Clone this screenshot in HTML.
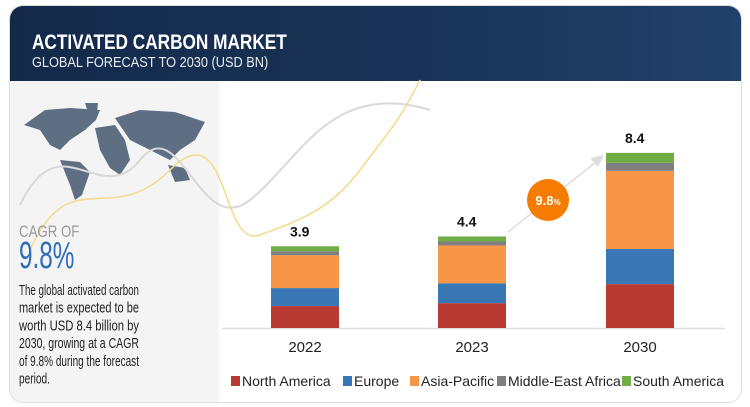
<!DOCTYPE html>
<html><head><meta charset="utf-8"><style>
body{margin:0;width:750px;height:407px;background:#fff;font-family:"Liberation Sans",sans-serif;overflow:hidden;position:relative}
.abs{position:absolute}
</style></head><body>
<div class="abs" style="left:9px;top:5px;width:731px;height:396px;border:1px solid #ddd;border-radius:14px;overflow:hidden;background:#fff">
 <div class="abs" style="left:0;top:0;width:731px;height:75px;background:linear-gradient(90deg,#13294a,#1a3558 60%,#21406a)">
  <div class="abs" style="left:22px;top:25px;color:#fff;font-weight:bold;font-size:21px;transform:scaleX(0.82);transform-origin:left;white-space:nowrap">ACTIVATED CARBON MARKET</div>
  <div class="abs" style="left:22px;top:48px;color:#e8ecf2;font-size:15px;transform:scaleX(0.85);transform-origin:left;white-space:nowrap">GLOBAL FORECAST TO 2030 (USD BN)</div>
 </div>
 <div class="abs" style="left:0;top:75px;width:209px;height:321px;background:#f4f4f4"></div>
</div>
<svg class="abs" style="left:0;top:0" width="750" height="407">
 <g fill="#5f6f83">
  <path d="M24 125 L45 110 L70 108 L100 110 L96 120 L85 130 L70 140 L60 150 L50 145 L40 130 Z"/>
  <path d="M60 160 L80 162 L90 172 L82 195 L75 200 L70 185 Z"/>
  <path d="M95 128 L115 125 L125 140 L130 160 L120 175 L110 168 L100 150 Z"/>
  <path d="M115 118 L140 110 L175 112 L205 122 L195 140 L180 150 L170 160 L150 150 L130 140 Z"/>
  <path d="M168 165 L185 168 L190 180 L175 182 Z"/>
  <path d="M85 103 L98 103 L97 112 L88 112 Z"/>
 </g>
 <path d="M20 205 C60 120 100 210 140 160 S200 240 250 200 S330 80 430 110" stroke="#d9d9d9" stroke-width="2" fill="none"/>
 <path d="M30 250 C70 160 110 230 170 170 S220 250 260 235 S330 210 360 170 S400 120 420 80" stroke="#f5d98a" stroke-width="1.5" fill="none"/>
 <text x="19" y="237" font-size="17" fill="#9a9a9a" transform="translate(19 0) scale(0.78 1) translate(-19 0)">CAGR OF</text>
 <text x="19" y="268" font-size="38" fill="#2f6eb5" transform="translate(19 0) scale(0.64 1) translate(-19 0)">9.8%</text>
 <g font-size="15" fill="#222">
  <text x="19" y="295" textLength="120" lengthAdjust="spacingAndGlyphs">The global activated carbon</text>
  <text x="19" y="312.7" textLength="120" lengthAdjust="spacingAndGlyphs">market is expected to be</text>
  <text x="19" y="330.4" textLength="120" lengthAdjust="spacingAndGlyphs">worth USD 8.4 billion by</text>
  <text x="19" y="348.1" textLength="120" lengthAdjust="spacingAndGlyphs">2030, growing at a CAGR</text>
  <text x="19" y="365.8" textLength="120" lengthAdjust="spacingAndGlyphs">of 9.8% during the forecast</text>
  <text x="19" y="383.5" textLength="31" lengthAdjust="spacingAndGlyphs">period.</text>
 </g>
</svg>
<svg id="chart" class="abs" style="left:0;top:0" width="750" height="407"></svg>
<script>
const years=["2022","2023","2030"];
const totals=["3.9","4.4","8.4"];
const seriesNames=["North America","Europe","Asia-Pacific","Middle-East Africa","South America"];
const northAmerica=[1.05,1.19,2.1];
const europe=[0.86,0.95,1.68];
const asiaPacific=[1.57,1.81,3.74];
const mea=[0.19,0.19,0.38];
const southAmerica=[0.24,0.24,0.48];
const colors=["#b93a32","#3a78b5","#f79646","#7f7f7f","#70ad47"];
const series=[northAmerica,europe,asiaPacific,mea,southAmerica];
const NS="http://www.w3.org/2000/svg",svg=document.getElementById("chart");
const base=328,pxPer=20.9,centers=[305,472,640],bw=68;
const y=v=>base-v*pxPer;
function mk(t,a){const e=document.createElementNS(NS,t);for(const k in a)e.setAttribute(k,a[k]);svg.appendChild(e);return e;}
const ax=mk("line",{x1:222,x2:725,y1:base+0.5,y2:base+0.5,stroke:"#ddd","stroke-width":1.5});


years.forEach((yr,i)=>{
 let cum=0;
 series.forEach((s,j)=>{
  const r=mk("rect",{x:centers[i]-bw/2,y:y(cum+s[i]),width:bw,height:s[i]*pxPer,fill:colors[j]});
  
  
  cum+=s[i];
 });
 const t=mk("text",{x:centers[i]-15,y:y(cum)-10,"font-size":14,"font-weight":"bold",fill:"#111"});
 t.textContent=totals[i];
 
 
 const xl=mk("text",{x:centers[i],y:352,"font-size":15,"text-anchor":"middle",fill:"#222"});
 xl.textContent=yr;
 
 
});
const ar=mk("line",{x1:508,y1:232,x2:596,y2:162,stroke:"#ddd","stroke-width":1.5});


const ah=mk("polygon",{points:"604,155 590,158 598,167",fill:"#ddd"});


const c=mk("circle",{cx:548,cy:200,r:21,fill:"#f57c00"});


const ct=mk("text",{x:548,y:205,"font-size":13,"font-weight":"bold","text-anchor":"middle",fill:"#fff"});
ct.innerHTML='9.8<tspan font-size="8">%</tspan>';


const lx=[231,343,410,497,622];
seriesNames.forEach((n,j)=>{
 const r=mk("rect",{x:lx[j],y:376,width:9,height:10,fill:colors[j]});
 
 
 const t=mk("text",{x:lx[j]+11,y:386,"font-size":14,fill:"#222"});
 t.textContent=n;
 
 
});
</script>
</body></html>
